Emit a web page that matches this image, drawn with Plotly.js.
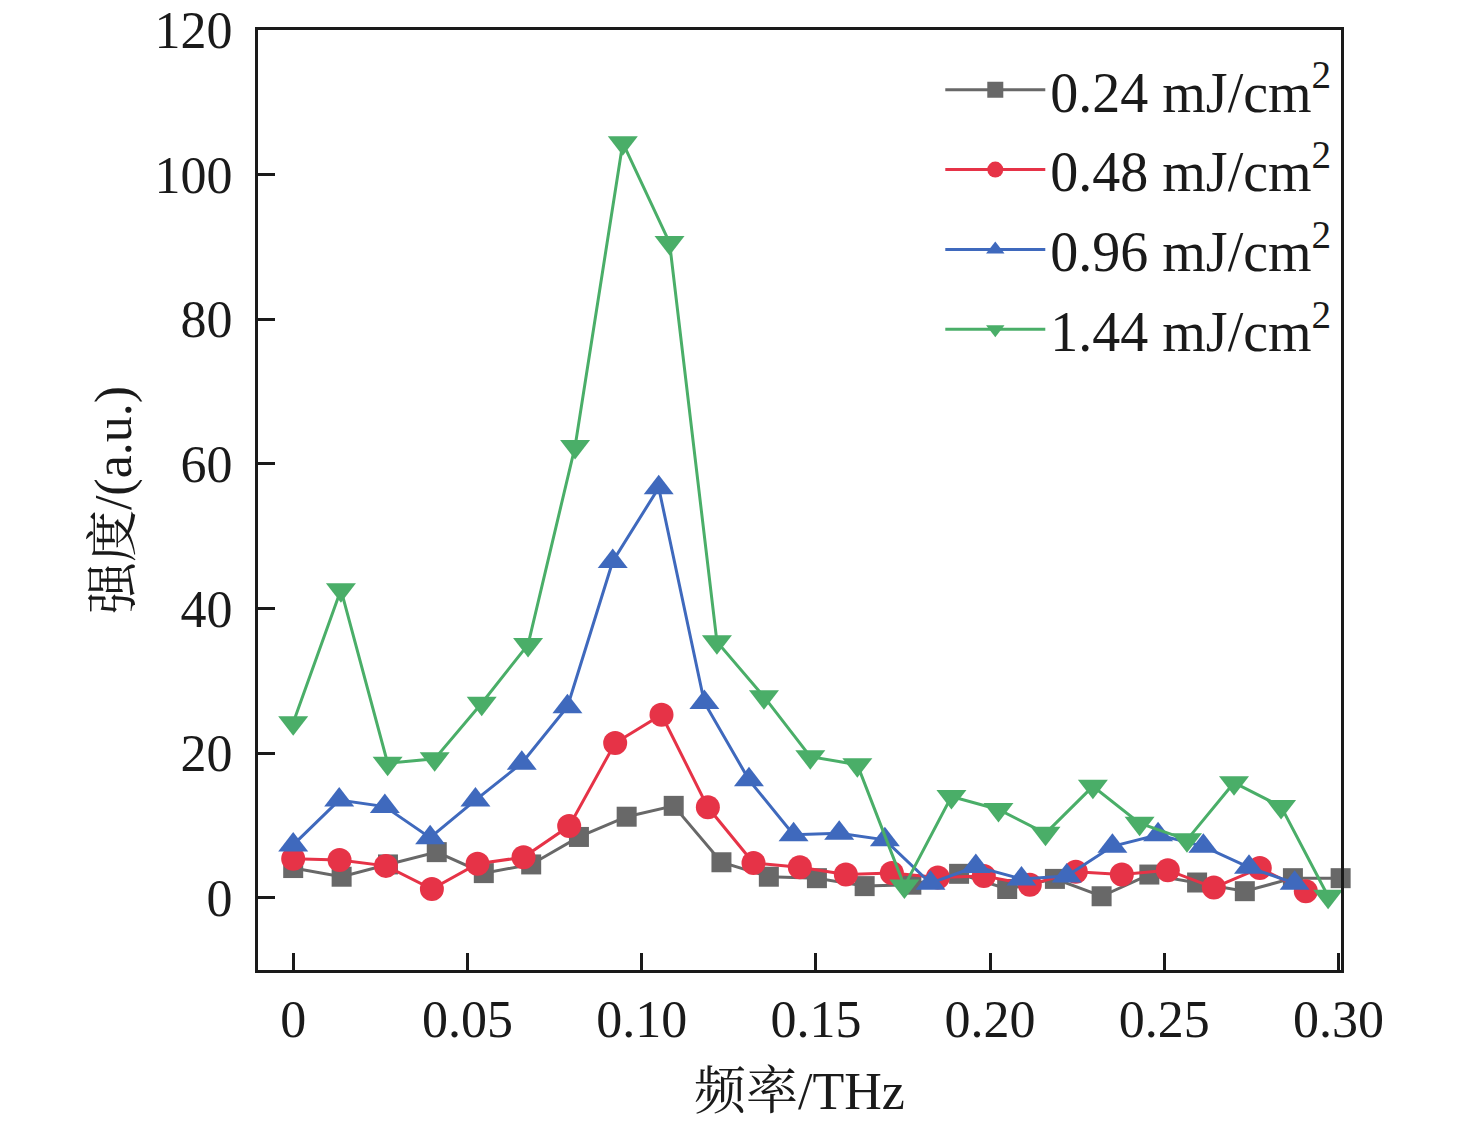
<!DOCTYPE html>
<html>
<head>
<meta charset="utf-8">
<script src="https://cdn.plot.ly/plotly-3.0.1.min.js"></script>
<style>
  html, body { margin: 0; padding: 0; background: #fff; }
  #chart { width: 1476px; height: 1125px; }
</style>
</head>
<body>
<div id="chart"></div>
<script>
// frequency (THz) of each point
var freq024 = [0, 0.0139, 0.0272, 0.0412, 0.0547, 0.0683, 0.0820, 0.0957, 0.1092, 0.1229, 0.1365, 0.1503, 0.1640, 0.1774, 0.1911, 0.2049, 0.2186, 0.2320, 0.2457, 0.2594, 0.2731, 0.2869, 0.3006];
var freq048 = [0, 0.0133, 0.0266, 0.0398, 0.0529, 0.0661, 0.0792, 0.0924, 0.1057, 0.1190, 0.1321, 0.1454, 0.1586, 0.1718, 0.1850, 0.1982, 0.2114, 0.2246, 0.2378, 0.2510, 0.2642, 0.2774, 0.2906];
var freq096 = [0, 0.0132, 0.0263, 0.0393, 0.0523, 0.0656, 0.0787, 0.0917, 0.1049, 0.1180, 0.1308, 0.1436, 0.1567, 0.1698, 0.1829, 0.1959, 0.2090, 0.2220, 0.2351, 0.2482, 0.2612, 0.2743, 0.2874];
var freq144 = [0, 0.0137, 0.0271, 0.0406, 0.0541, 0.0674, 0.0809, 0.0946, 0.1080, 0.1216, 0.1351, 0.1484, 0.1619, 0.1754, 0.1889, 0.2024, 0.2159, 0.2295, 0.2429, 0.2565, 0.2700, 0.2835, 0.2970];

// intensity (a.u.)
var int024 = [4.1, 2.9, 4.6, 6.3, 3.4, 4.6, 8.4, 11.2, 12.7, 4.9, 2.9, 2.7, 1.6, 1.8, 3.3, 1.2, 2.6, 0.2, 3.2, 2.1, 0.9, 2.7, 2.7];
var int048 = [5.4, 5.2, 4.4, 1.2, 4.7, 5.6, 9.9, 21.4, 25.3, 12.5, 4.8, 4.2, 3.2, 3.4, 2.8, 3.0, 1.8, 3.6, 3.2, 3.8, 1.4, 4.1, 0.9];
var int096 = [7.3, 13.5, 12.6, 8.3, 13.5, 18.6, 26.4, 46.5, 56.7, 27.0, 16.3, 8.7, 8.9, 8.0, 2.0, 4.3, 2.6, 3.0, 7.1, 8.7, 7.1, 4.2, 2.0];
var int144 = [24.2, 42.6, 18.6, 19.2, 26.9, 35.0, 62.4, 104.4, 90.6, 35.4, 27.8, 19.5, 18.4, 1.6, 14.0, 12.2, 8.9, 15.4, 10.3, 8.0, 15.9, 12.6, 0.2];

var seriesNames = ['0.24 mJ/cm<sup>2</sup>', '0.48 mJ/cm<sup>2</sup>', '0.96 mJ/cm<sup>2</sup>', '1.44 mJ/cm<sup>2</sup>'];

var xTickVals = [0, 0.05, 0.10, 0.15, 0.20, 0.25, 0.30];
var xTickText = ['0', '0.05', '0.10', '0.15', '0.20', '0.25', '0.30'];
var yTickVals = [0, 20, 40, 60, 80, 100, 120];

var serif = '"Liberation Serif", "Times New Roman", "Noto Serif CJK SC", "Noto Sans CJK SC", serif';

var s1 = {
  x: freq024, y: int024, name: seriesNames[0], legendgroup: 'a', type: 'scatter', mode: 'lines+markers',
  line: {color: '#686868', width: 3},
  marker: {symbol: 'square', size: 20, color: '#686868'},
  cliponaxis: false
};
var s2 = {
  x: freq048, y: int048, name: seriesNames[1], legendgroup: 'b', type: 'scatter', mode: 'lines+markers',
  line: {color: '#e63347', width: 3},
  marker: {symbol: 'circle', size: 24, color: '#e63347'},
  cliponaxis: false
};
var s3 = {
  x: freq096, y: int096, name: seriesNames[2], legendgroup: 'c', type: 'scatter', mode: 'lines+markers',
  line: {color: '#3f69bd', width: 3},
  marker: {symbol: 'triangle-up', size: 26, color: '#3f69bd'},
  cliponaxis: false
};
var s4 = {
  x: freq144, y: int144, name: seriesNames[3], legendgroup: 'd', type: 'scatter', mode: 'lines+markers',
  line: {color: '#4aae68', width: 3},
  marker: {symbol: 'triangle-down', size: 26, color: '#4aae68'},
  cliponaxis: false
};

var layout = {
  width: 1476,
  height: 1125,
  paper_bgcolor: '#fff',
  plot_bgcolor: '#fff',
  margin: {l: 258, r: 135, t: 30, b: 155},
  font: {family: serif, size: 52, color: '#1a1a1a'},
  showlegend: true,
  legend: {
    x: 0.63, y: 0.982, xanchor: 'left', yanchor: 'top',
    bgcolor: 'rgba(0,0,0,0)', borderwidth: 0,
    font: {family: serif, size: 56, color: '#1a1a1a'},
    itemwidth: 100,
    traceorder: 'grouped',
    tracegroupgap: 4
  },
  xaxis: {
    range: [-0.0101, 0.3007],
    tickvals: xTickVals, ticktext: xTickText,
    ticks: 'inside', ticklen: 17, tickwidth: 3, tickcolor: '#1a1a1a',
    showline: true, linewidth: 3, linecolor: '#1a1a1a', mirror: true,
    showgrid: false, zeroline: false,
    ticklabelstandoff: 2,
    title: {text: '频率/THz', font: {family: serif, size: 52}, standoff: 26}
  },
  yaxis: {
    range: [-10, 120],
    tickvals: yTickVals,
    ticks: 'inside', ticklen: 17, tickwidth: 3, tickcolor: '#1a1a1a',
    showline: true, linewidth: 3, linecolor: '#1a1a1a', mirror: true,
    showgrid: false, zeroline: false,
    ticklabelstandoff: 12,
    title: {text: '强度/(a.u.)', font: {family: serif, size: 52}, standoff: 7}
  }
};

Plotly.newPlot('chart', [s1, s2, s3, s4], layout, {displayModeBar: false, staticPlot: true});
</script>
</body>
</html>
